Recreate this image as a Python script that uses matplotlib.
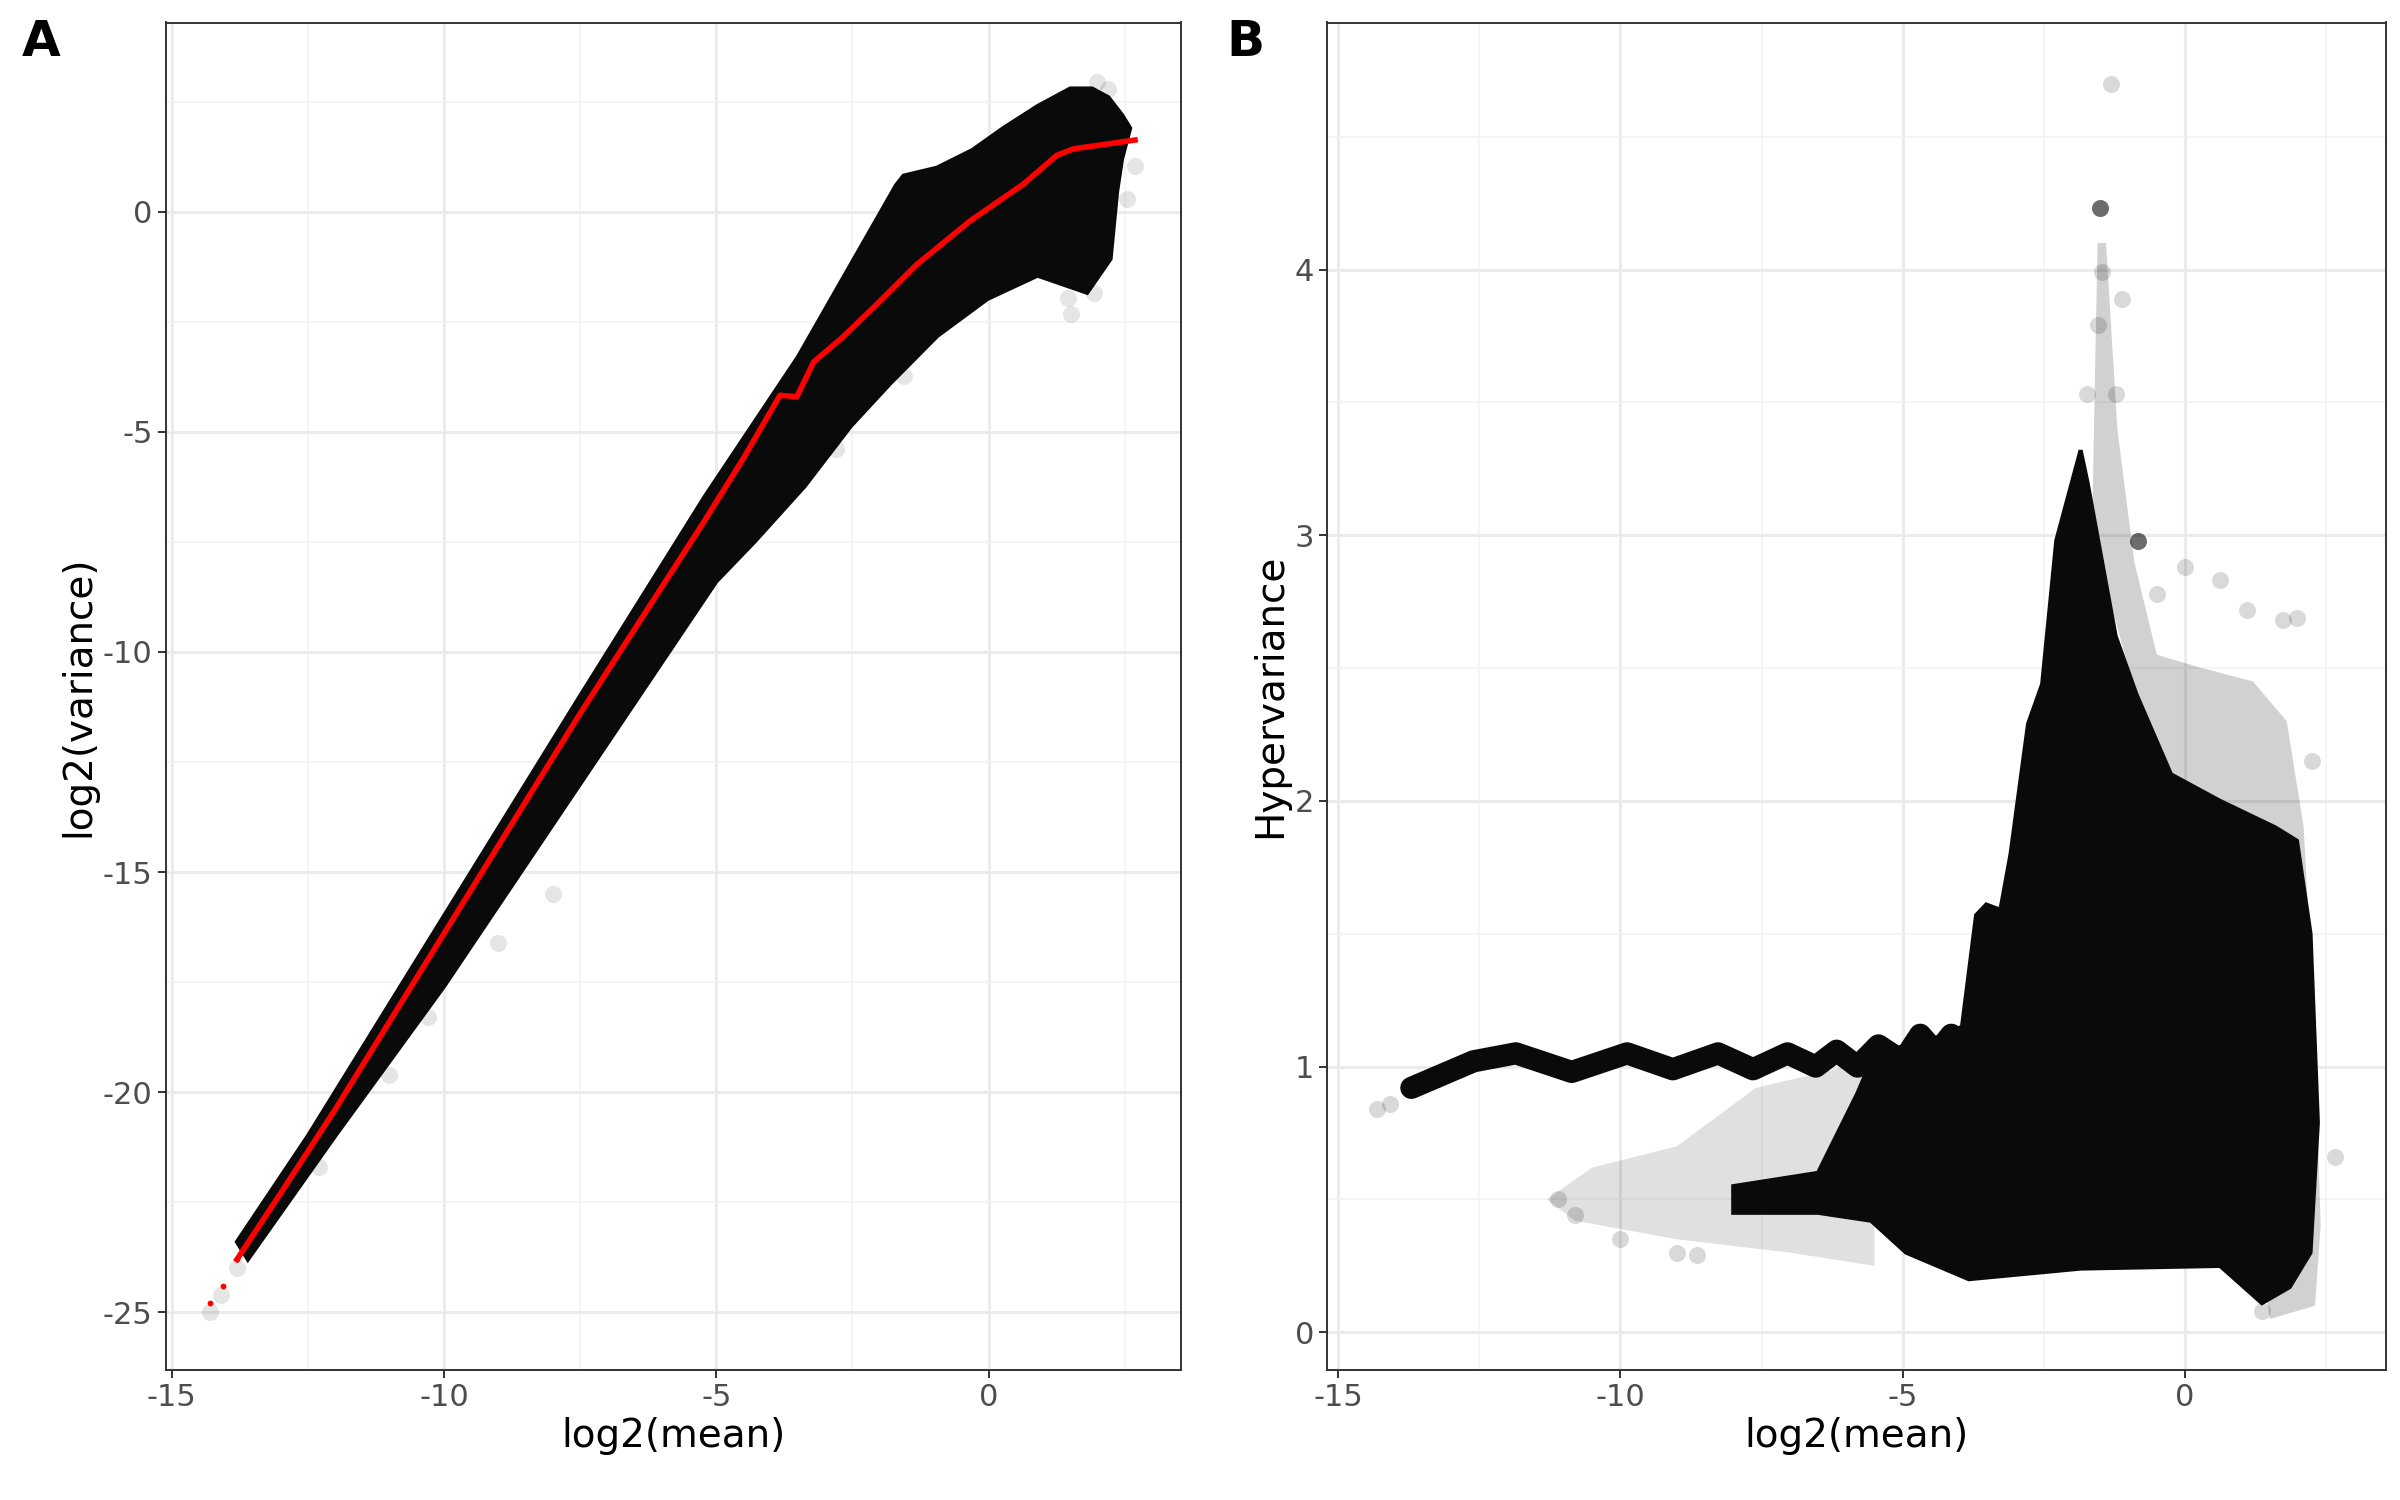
import numpy as np
import matplotlib.pyplot as plt
from matplotlib.ticker import MultipleLocator

# Panel A: outline of the dense point cloud (log2 mean vs log2 variance)
a_upper_x = [-13.8, -12.5, -10.0, -7.5, -5.2, -3.5, -1.93, -1.7, -1.56, -0.95, -0.3, 0.27, 0.9, 1.5, 1.9, 2.2, 2.45, 2.6]
a_upper_y = [-23.4, -21.0, -16.0, -11.0, -6.45, -3.3, 0.1, 0.6, 0.82, 1.0, 1.4, 1.9, 2.4, 2.8, 2.8, 2.6, 2.2, 1.9]
a_lower_x = [2.45, 2.36, 2.24, 1.81, 0.9, -0.02, -0.94, -1.79, -2.53, -3.38, -4.3, -5.0, -7.5, -10.0, -12.0, -13.6]
a_lower_y = [1.2, 0.46, -1.07, -1.84, -1.45, -1.98, -2.82, -3.88, -4.87, -6.24, -7.5, -8.4, -13.0, -17.6, -21.0, -23.8]
a_out_x = [-14.3, -14.1, -13.8, -12.3, -11.0, -10.3, -9.0, -8.0, -2.8, -1.56, 1.51, 1.45, 1.93, 2.68, 2.55, 2.2, 2.0]
a_out_y = [-25.0, -24.6, -24.0, -21.7, -19.6, -18.3, -16.6, -15.5, -5.4, -3.73, -2.33, -1.95, -1.84, 1.05, 0.3, 2.8, 2.95]
# red trend line
a_fit_x = [-14.3, -14.05, -13.8, -13.0, -12.0, -10.0, -7.5, -5.24, -4.5, -3.83, -3.52, -3.21, -2.67, -2.05, -1.32, -0.34, 0.64, 1.25, 1.56, 2.69]
a_fit_y = [-24.8, -24.4, -23.8, -22.3, -20.4, -16.4, -11.4, -7.07, -5.6, -4.17, -4.2, -3.41, -2.84, -2.1, -1.2, -0.21, 0.63, 1.28, 1.43, 1.63]

# Panel B: wavy baseline band
b_wave_x = [-13.7, -12.6, -11.85, -10.86, -9.88, -9.07, -8.27, -7.65, -7.04, -6.54, -6.17, -5.8, -5.43, -5.0, -4.69, -4.4, -4.14]
b_wave_y = [0.92, 1.02, 1.05, 0.98, 1.05, 0.99, 1.05, 0.99, 1.05, 1.0, 1.06, 1.0, 1.08, 1.02, 1.12, 1.05, 1.12]
# main mass outline
b_upper_x = [-8.0, -6.5, -5.8, -5.5, -4.5, -3.95, -3.7, -3.52, -3.27, -3.09, -2.78, -2.53, -2.28, -2.04, -1.85, -1.73, -1.48, -1.23, -0.86, -0.25, 0.62, 1.6, 1.98, 2.22, 2.35]
b_upper_y = [0.55, 0.6, 0.9, 1.05, 1.1, 1.15, 1.57, 1.61, 1.59, 1.8, 2.29, 2.44, 2.98, 3.17, 3.32, 3.2, 2.91, 2.62, 2.4, 2.1, 2.0, 1.9, 1.85, 1.5, 0.79]
b_lower_x = [2.22, 1.85, 1.36, 0.62, -1.85, -3.83, -4.94, -5.56, -6.5, -8.0]
b_lower_y = [0.3, 0.17, 0.11, 0.25, 0.24, 0.2, 0.3, 0.42, 0.45, 0.45]
# translucent spread of points above the mass
b_spread_x = [-1.65, -1.55, -1.4, -1.2, -0.9, -0.5, 0.3, 1.2, 1.8, 2.1, 2.3, 2.4, 2.3, 1.5, 0.5, -1.0]
b_spread_y = [3.0, 4.1, 4.1, 3.4, 2.9, 2.55, 2.5, 2.45, 2.3, 1.9, 1.1, 0.4, 0.1, 0.05, 1.5, 2.5]
# faint halo of sparse points on the left
b_halo_x = [-11.3, -10.5, -9.0, -7.6, -6.0, -5.5, -5.5, -7.0, -9.0, -10.8]
b_halo_y = [0.5, 0.62, 0.7, 0.92, 1.0, 1.0, 0.25, 0.3, 0.35, 0.42]
b_out_x = [-1.32, -1.5, -0.84, -1.11, 0.0, 0.62, 1.98, 2.25, 2.65, 1.36, -14.3, -14.07, -10.0, -9.0, -8.64, -11.1, -10.8, -1.48, -1.54, -1.73, -1.23, -0.5, 1.1, 1.73]
b_out_y = [4.7, 4.23, 2.98, 3.89, 2.88, 2.83, 2.69, 2.15, 0.66, 0.08, 0.84, 0.86, 0.35, 0.3, 0.29, 0.5, 0.44, 3.99, 3.79, 3.53, 3.53, 2.78, 2.72, 2.68]

grey_text = "#4D4D4D"


def style(ax):
    ax.set_facecolor("white")
    ax.grid(which="major", color="#EBEBEB", lw=2.2)
    ax.grid(which="minor", color="#F3F3F3", lw=1.2)
    ax.set_axisbelow(True)
    for s in ax.spines.values():
        s.set_color("#333333")
        s.set_linewidth(1.4)
    ax.tick_params(which="major", colors="#333333", labelcolor=grey_text, labelsize=22, length=6, width=1.4)
    ax.tick_params(which="minor", length=0)
    ax.xaxis.set_major_locator(MultipleLocator(5))
    ax.xaxis.set_minor_locator(MultipleLocator(2.5))
    ax.xaxis.set_major_formatter(plt.FuncFormatter(lambda v, p: f"{v:g}"))


fig = plt.figure(figsize=(24, 15), dpi=100)
axA = fig.add_axes([0.069, 0.087, 0.423, 0.898])
axB = fig.add_axes([0.553, 0.087, 0.441, 0.898])

style(axA)
axA.fill(a_upper_x + a_lower_x, a_upper_y + a_lower_y, color="#0A0A0A", lw=3, ec="#0A0A0A", zorder=2)
axA.scatter(a_out_x, a_out_y, s=150, color="black", alpha=0.1, lw=0, zorder=2)
axA.scatter(a_fit_x[:3], a_fit_y[:3], s=10, color="red", zorder=3)
axA.plot(a_fit_x[2:], a_fit_y[2:], color="red", lw=4, zorder=3)
axA.set_xlim(-15.11, 3.53)
axA.set_ylim(-26.3, 4.3)
axA.yaxis.set_major_locator(MultipleLocator(5))
axA.yaxis.set_minor_locator(MultipleLocator(2.5))
axA.yaxis.set_major_formatter(plt.FuncFormatter(lambda v, p: f"{v:g}"))
axA.set_xlabel("log2(mean)", fontsize=28)
axA.set_ylabel("log2(variance)", fontsize=28)

style(axB)
axB.fill(b_halo_x, b_halo_y, color="black", alpha=0.12, lw=0, zorder=2)
axB.fill(b_spread_x, b_spread_y, color="black", alpha=0.18, lw=0, zorder=2)
axB.plot(b_wave_x, b_wave_y, color="#0A0A0A", lw=16, solid_capstyle="round", solid_joinstyle="round", zorder=2)
axB.fill(b_upper_x + b_lower_x, b_upper_y + b_lower_y, color="#0A0A0A", lw=3, ec="#0A0A0A", zorder=2)
axB.scatter(b_out_x, b_out_y, s=150, color="black", alpha=0.15, lw=0, zorder=2)
axB.scatter(b_out_x[1:3], b_out_y[1:3], s=150, color="black", alpha=0.5, lw=0, zorder=2)
axB.set_xlim(-15.19, 3.55)
axB.set_ylim(-0.14, 4.93)
axB.yaxis.set_major_locator(MultipleLocator(1))
axB.yaxis.set_minor_locator(MultipleLocator(0.5))
axB.yaxis.set_major_formatter(plt.FuncFormatter(lambda v, p: f"{v:g}"))
axB.set_xlabel("log2(mean)", fontsize=28)
axB.set_ylabel("Hypervariance", fontsize=28)

fig.text(0.009, 0.972, "A", fontsize=36, fontweight="bold", va="center")
fig.text(0.511, 0.972, "B", fontsize=36, fontweight="bold", va="center")

fig.savefig("out.png", dpi=100)
